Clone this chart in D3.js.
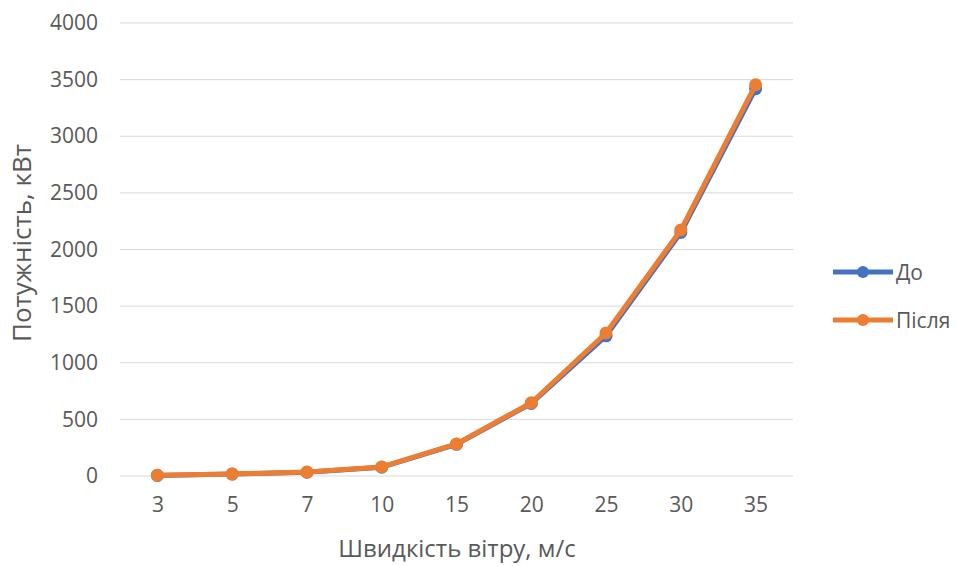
<!DOCTYPE html>
<html>
<head>
<meta charset="utf-8">
<script src="https://cdn.jsdelivr.net/npm/d3@7"></script>
<style>
  body { margin: 0; background: #fff; }
  text { font-family: "Open Sans", "Noto Sans", sans-serif; fill: #595959; }
</style>
</head>
<body>
<svg id="chart" width="956" height="566"></svg>
<script>
// wind speed categories, m/s
var speeds = ["3", "5", "7", "10", "15", "20", "25", "30", "35"];
// power, kW
var powerBefore = [5, 17, 33, 78, 280, 640, 1238, 2150, 3420];
var powerAfter  = [6, 18, 35, 80, 283, 647, 1263, 2172, 3455];
var yTicks = [0, 500, 1000, 1500, 2000, 2500, 3000, 3500, 4000];

var series = [
  {name: "До", values: powerBefore, color: "#4472c4"},
  {name: "Після", values: powerAfter, color: "#ed7d31"}
];

var svg = d3.select("#chart");
var plotL = 120, plotR = 793, plotT = 23, plotB = 476;

var x = d3.scalePoint().domain(speeds).range([plotL, plotR]).padding(0.5);
var y = d3.scaleLinear().domain([0, 4000]).range([plotB, plotT]);

// gridlines
svg.append("g").selectAll("line")
  .data(yTicks)
  .enter().append("line")
  .attr("x1", plotL).attr("x2", plotR)
  .attr("y1", function(d) { return y(d); })
  .attr("y2", function(d) { return y(d); })
  .style("stroke", "#d9d9d9")
  .style("stroke-width", "1px");

// y labels
var yAxis = d3.axisLeft(y).tickValues(yTicks).tickFormat(d3.format("d")).tickSize(0).tickPadding(0);
var gy = svg.append("g").attr("transform", "translate(98,0)").call(yAxis);
gy.select(".domain").remove();
gy.selectAll("text").style("font-size", "21px").style("fill", "#595959")
  .style("font-family", "'Open Sans', sans-serif");

// x labels
var xAxis = d3.axisBottom(x).tickSize(0).tickPadding(0);
var gx = svg.append("g").attr("transform", "translate(0,497)").call(xAxis);
gx.select(".domain").remove();
gx.selectAll("text").style("font-size", "21px").style("fill", "#595959")
  .style("font-family", "'Open Sans', sans-serif");

// axis titles
svg.append("text")
  .attr("x", 457).attr("y", 557)
  .attr("text-anchor", "middle")
  .style("font-size", "24px")
  .text("Швидкість вітру, м/с");

svg.append("text")
  .attr("transform", "translate(31,243) rotate(-90)")
  .attr("text-anchor", "middle")
  .style("font-size", "26px")
  .text("Потужність, кВт");

// lines + markers
var line = d3.line()
  .x(function(d, i) { return x(speeds[i]); })
  .y(function(d) { return y(d); });

series.forEach(function(s) {
  svg.append("path")
    .datum(s.values)
    .attr("d", line)
    .style("fill", "none")
    .style("stroke", s.color)
    .style("stroke-width", "5px")
    .style("stroke-linejoin", "round");
  svg.append("g").selectAll("circle")
    .data(s.values)
    .enter().append("circle")
    .attr("cx", function(d, i) { return x(speeds[i]); })
    .attr("cy", function(d) { return y(d); })
    .attr("r", 6.5)
    .style("fill", s.color);
});

// legend
var legend = svg.append("g").selectAll("g")
  .data(series)
  .enter().append("g")
  .attr("transform", function(d, i) { return "translate(833," + (272 + i * 48) + ")"; });
legend.append("line")
  .attr("x1", 0).attr("x2", 60)
  .style("stroke", function(d) { return d.color; })
  .style("stroke-width", "5px");
legend.append("circle")
  .attr("cx", 30).attr("r", 6)
  .style("fill", function(d) { return d.color; });
legend.append("text")
  .attr("x", 63).attr("y", 8)
  .style("font-size", "21px")
  .text(function(d) { return d.name; });
</script>
</body>
</html>
